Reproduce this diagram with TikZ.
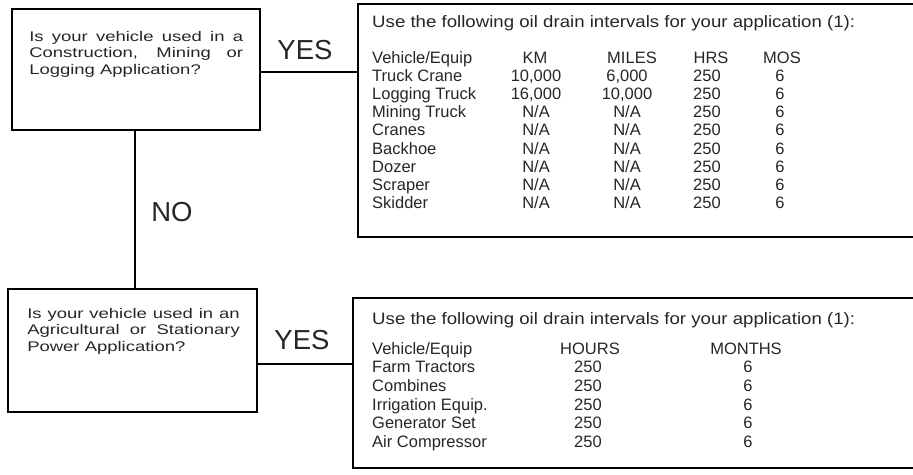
\documentclass[tikz,border=0pt]{standalone}
\usepackage{fontspec}
\setmainfont{Liberation Sans}
\newcommand{\tblfont}{\fontsize{16.5}{18}\selectfont}
\newcommand{\qfont}{\fontsize{14}{16.5}\selectfont}
\newcommand{\notapp}{N/A}
\tikzset{
  qbox/.style={draw, line width=1.6pt, inner sep=0pt},
  tblbox/.style={draw, line width=1.6pt, inner sep=0pt},
  qtext/.style={anchor=north west, inner sep=0pt, font=\qfont, align=justify,
    xscale=1.32, transform shape},
  answer/.style={inner sep=0pt, font=\fontsize{27.5}{29}\selectfont},
  cell/.style={anchor=base, inner sep=0pt, font=\tblfont},
  lcell/.style={anchor=base west, inner sep=0pt, font=\tblfont},
  tbltitle/.style={lcell, xscale=1.13, transform shape},
  link/.style={line width=1.6pt}
}
\begin{document}
\begin{tikzpicture}[x=1pt, y=-1pt, text=black!85]
  \useasboundingbox (0,0) rectangle (913,474);

  % question boxes
  \node[qbox, minimum width=248pt, minimum height=121pt] (q1) at (136,69.5) {};
  \node[qbox, minimum width=249pt, minimum height=123pt] (q2) at (132.5,350.5) {};
  \node[qtext, text width=162pt] (q1txt) at (29,31)
    {Is your vehicle used in a\linebreak Construction, Mining or\linebreak
     Logging Application?};
  \node[qtext, text width=161pt] (q2txt) at (27,308)
    {Is your vehicle used in an\linebreak Agricultural or Stationary\linebreak
     Power Application?};

  % answer tables (right edges run off the page)
  \node[tblbox, minimum width=572pt, minimum height=233pt] (t1) at (644,120.5) {};
  \node[tblbox, minimum width=577pt, minimum height=170pt] (t2) at (641.5,383) {};

  % connectors
  \coordinate (yes1from) at ([yshift=-2.5pt]q1.east);
  \coordinate (yes2from) at ([yshift=-13.5pt]q2.east);
  \coordinate (nofrom) at ([xshift=-1pt]q1.south);
  \draw[link] (yes1from) -- (t1.west |- yes1from);
  \draw[link] (yes2from) -- (t2.west |- yes2from);
  \draw[link] (nofrom) -- (nofrom |- q2.north);

  \node[answer] (yes1) at (305,50) {YES};
  \node[answer] (yes2) at (302,340) {YES};
  \node[answer] (no) at (172,212) {NO};

  % table 1
  \node[tbltitle] (t1title) at (372,27)
    {Use the following oil drain intervals for your application (1):};
  \node[lcell] (t1h0) at (372,63) {Vehicle/Equip};
  \node[cell] (t1h1) at (535,63) {KM};
  \node[cell] (t1h2) at (632,63) {MILES};
  \node[cell] (t1h3) at (711,63) {HRS};
  \node[cell] (t1h4) at (782,63) {MOS};
  \foreach \veh/\km/\mi [count=\i] in {Truck Crane/{10,000}/{6,000},
      Logging Truck/{16,000}/{10,000}, Mining Truck/\notapp/\notapp,
      Cranes/\notapp/\notapp, Backhoe/\notapp/\notapp, Dozer/\notapp/\notapp,
      Scraper/\notapp/\notapp, Skidder/\notapp/\notapp}{
    \node[lcell] (veh1-\i) at (372,63+18.2*\i) {\veh};
    \node[cell] (km-\i) at (536,63+18.2*\i) {\km};
    \node[cell] (mi-\i) at (627,63+18.2*\i) {\mi};
    \node[cell] (hrs-\i) at (707,63+18.2*\i) {250};
    \node[cell] (mos-\i) at (780,63+18.2*\i) {6};
  }

  % table 2
  \node[tbltitle] (t2title) at (372,324)
    {Use the following oil drain intervals for your application (1):};
  \node[lcell] (t2h0) at (372,354) {Vehicle/Equip};
  \node[cell] (t2h1) at (590,354) {HOURS};
  \node[cell] (t2h2) at (746,354) {MONTHS};
  \foreach \veh [count=\i] in {Farm Tractors, Combines, Irrigation Equip.,
      Generator Set, Air Compressor}{
    \node[lcell] (veh2-\i) at (372,354+18.7*\i) {\veh};
    \node[cell] (hours-\i) at (588,354+18.7*\i) {250};
    \node[cell] (months-\i) at (748,354+18.7*\i) {6};
  }
\end{tikzpicture}
\end{document}
